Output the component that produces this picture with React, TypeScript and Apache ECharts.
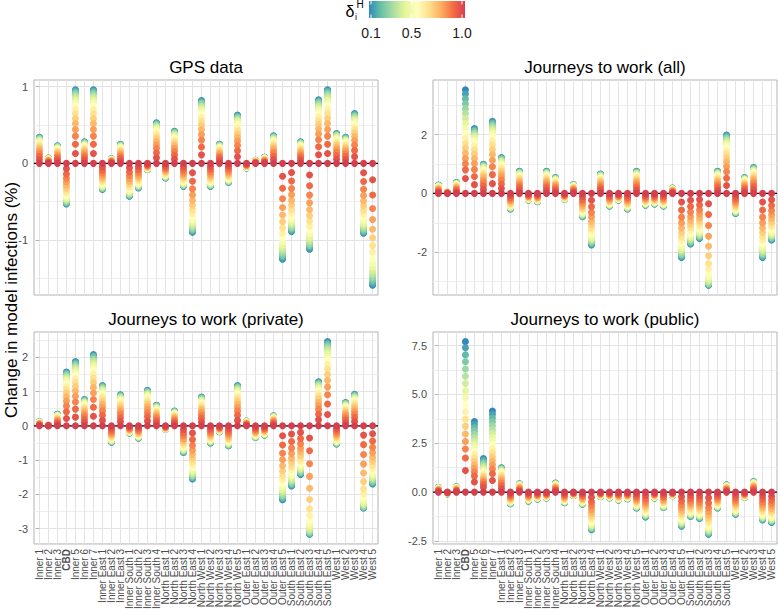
import React, { useEffect, useRef } from "react";
import * as echarts from "echarts";

const categories = [
  "Inner 1", "Inner 2", "Inner 3", "CBD", "Inner 5", "Inner 6", "Inner 7",
  "Inner East 1", "Inner East 2", "Inner East 3",
  "Inner South 1", "Inner South 2", "Inner South 3", "Inner South 4",
  "North East 1", "North East 2", "North East 3", "North East 4",
  "North West 1", "North West 2", "North West 3", "North West 4", "North West 5",
  "Outer East 1", "Outer East 2", "Outer East 3", "Outer East 4", "Outer East 5",
  "South East 1", "South East 2", "South East 3", "South East 4", "South East 5",
  "West 1", "West 2", "West 3", "West 4", "West 5",
];

// delta_i^H values, from 1.0 (no change) down to 0.1
const deltaValues = [1.0, 0.95, 0.9, 0.85, 0.8, 0.75, 0.7, 0.65, 0.6, 0.55, 0.5, 0.45, 0.4, 0.35, 0.3, 0.25, 0.2, 0.15, 0.1];

// change (%) at delta = 0.1 for each area
const gpsExtreme = [0.34, 0.07, 0.23, -0.53, 0.96, 0.28, 0.96, -0.34, 0.06, 0.25, -0.43, -0.32, -0.08, 0.53, -0.19, 0.42, -0.30, -0.90, 0.82, -0.30, 0.25, -0.25, 0.63, -0.06, 0.04, 0.08, 0.36, -1.25, -0.89, 0.28, -1.12, 0.83, 0.96, 0.39, 0.34, 0.65, -0.91, -1.59];
const allExtreme = [0.28, 0.05, 0.37, 3.52, 2.20, 0.99, 2.45, 1.22, -0.53, 0.75, -0.23, -0.28, 0.75, 0.54, -0.20, 0.30, -0.79, -1.75, 0.66, -0.43, -0.23, -0.53, 0.75, -0.40, -0.36, -0.43, 0.18, -2.18, -1.72, -1.53, -3.12, 0.75, 1.98, -0.68, 0.54, 0.88, -2.18, -1.58];
const privateExtreme = [0.12, 0.02, 0.34, 1.57, 1.88, 0.77, 2.08, 1.18, -0.48, 0.91, -0.21, -0.36, 1.04, 0.60, -0.10, 0.43, -0.78, -1.55, 0.84, -0.50, -0.17, -0.58, 1.18, 0.14, -0.34, -0.27, 0.29, -2.16, -1.76, -1.42, -3.17, 1.29, 2.46, -0.53, 0.68, 0.92, -2.40, -1.70];
const publicExtreme = [0.24, -0.08, 0.27, 7.70, 3.61, 1.72, 4.15, 1.25, -0.59, 0.42, -0.46, -0.35, -0.30, 0.46, -0.54, -0.17, -0.62, -1.93, -0.22, -0.29, -0.41, -0.34, -0.81, -1.27, -0.30, -0.79, -0.18, -1.74, -1.25, -1.35, -2.16, -0.81, 0.37, -1.13, -0.27, 0.54, -1.42, -1.55];

// fraction of the delta = 0.1 change reached at each delta
const profileStandard = [0, 0.135, 0.26, 0.37, 0.46, 0.54, 0.61, 0.675, 0.73, 0.78, 0.82, 0.855, 0.885, 0.91, 0.935, 0.955, 0.972, 0.987, 1.0];
const profileCentral = [0, 0.143, 0.227, 0.286, 0.336, 0.386, 0.437, 0.484, 0.532, 0.58, 0.627, 0.674, 0.722, 0.77, 0.818, 0.866, 0.912, 0.959, 1.0];
const profileSpread = [0, 0.113, 0.229, 0.349, 0.466, 0.575, 0.679, 0.765, 0.826, 0.872, 0.905, 0.93, 0.95, 0.965, 0.977, 0.986, 0.993, 0.998, 1.0];

const gpsShapes: Record<number, number[]> = {};
const allShapes: Record<number, number[]> = { 3: profileCentral, 30: profileSpread };
const privateShapes: Record<number, number[]> = { 30: profileSpread, 36: profileSpread };
const publicShapes: Record<number, number[]> = { 3: profileCentral, 4: profileCentral, 5: profileCentral, 6: profileCentral };

const titles = ["GPS data", "Journeys to work (all)", "Journeys to work (private)", "Journeys to work (public)"];
const majorTicks = [[-1, 0, 1], [-2, 0, 2], [-3, -2, -1, 0, 1, 2], [-2.5, 0, 2.5, 5, 7.5]];
const minorTicks = [[-1.5, -0.5, 0.5], [-3, -1, 1, 3], [-2.5, -1.5, -0.5, 0.5, 1.5, 2.5], [-1.25, 1.25, 3.75, 6.25]];
const tickDecimals = [0, 0, 0, 1];

const spectral = ["#3288BD", "#66C2A5", "#ABDDA4", "#E6F598", "#FFFFBF", "#FEE08B", "#FDAE61", "#F46D43", "#D53E4F"];
const legendTicks = [0.1, 0.5, 1.0];

const FONT = "Liberation Sans, Arial, Helvetica, sans-serif";

export default function App() {
  const ref = useRef<HTMLDivElement>(null);

  useEffect(() => {
    if (!ref.current) return;
    const chart = echarts.init(ref.current, null, { renderer: "svg" });

    const extremes = [gpsExtreme, allExtreme, privateExtreme, publicExtreme];
    const shapes = [gpsShapes, allShapes, privateShapes, publicShapes];
    const layout = [
      { left: 34, top: 80, height: 215, showX: false },
      { left: 433, top: 80, height: 215, showX: false },
      { left: 34, top: 332, height: 214, showX: true },
      { left: 433, top: 332, height: 214, showX: true },
    ];
    const W = 344;
    const catIdx = categories.map((_, i) => i);
    const xMin = -0.6;
    const xMax = categories.length - 1 + 0.6;
    // empty placeholder labels at both ends keep every real label from being dropped
    const labelValues = [xMin + 0.05, ...catIdx, xMax - 0.05];

    const grid: any[] = [];
    const xAxis: any[] = [];
    const yAxis: any[] = [];
    const series: any[] = [];
    const graphic: any[] = [];
    const scatterIdx: number[] = [];

    extremes.forEach((ext, k) => {
      const L = layout[k];
      const dMin = Math.min(0, ...ext);
      const dMax = Math.max(0, ...ext);
      const span = dMax - dMin;
      const yMin = dMin - 0.05 * span;
      const yMax = dMax + 0.05 * span;

      grid.push({ left: L.left, top: L.top, width: W, height: L.height, show: true, borderColor: "#B3B3B3", borderWidth: 1, backgroundColor: "transparent", containLabel: false });

      xAxis.push({
        type: "value", gridIndex: k, min: xMin, max: xMax,
        axisLine: { show: false },
        axisTick: { show: L.showX, customValues: catIdx, length: 3.5, lineStyle: { color: "#B3B3B3" } },
        axisLabel: {
          show: L.showX, customValues: labelValues, rotate: 90, margin: 5,
          hideOverlap: false,
          fontSize: 10, color: "#4D4D4D", fontFamily: FONT,
          formatter: (v: number) => {
            if (Math.abs(v - Math.round(v)) > 0.01) return "";
            const name = categories[Math.round(v)] ?? "";
            return name === "CBD" ? "{b|CBD}" : name;
          },
          rich: { b: { fontWeight: "bold", fontSize: 10, color: "#4D4D4D", fontFamily: FONT } },
        },
        splitLine: { show: true, lineStyle: { color: "#E3E3E3", width: 1 } },
      });

      yAxis.push({
        type: "value", gridIndex: k, min: yMin, max: yMax, position: "left",
        axisLine: { show: false },
        axisTick: { show: true, customValues: majorTicks[k], length: 3.5, lineStyle: { color: "#B3B3B3" } },
        axisLabel: {
          customValues: majorTicks[k], margin: 6, fontSize: 11, color: "#4D4D4D", fontFamily: FONT,
          showMinLabel: true, showMaxLabel: true,
          formatter: (v: number) => v.toFixed(tickDecimals[k]),
        },
        splitLine: { show: true, lineStyle: { color: "#E3E3E3", width: 1 } },
      });
      yAxis.push({
        type: "value", gridIndex: k, min: yMin, max: yMax, position: "left",
        axisLine: { show: false },
        axisTick: { show: false, customValues: minorTicks[k] },
        axisLabel: { show: false, customValues: minorTicks[k] },
        splitLine: { show: true, lineStyle: { color: "#EEEEEE", width: 1 } },
      });

      series.push({
        type: "line", xAxisIndex: k, yAxisIndex: 2 * k, silent: true, symbol: "none", z: 3,
        data: [[xMin, 0], [xMax, 0]],
        itemStyle: { color: "#000000" },
        lineStyle: { color: "#000000", width: 1.4 },
      });

      // drawn from delta = 0.1 up to delta = 1.0, so the red (1.0) dots lie on top
      const pts: number[][] = [];
      ext.forEach((v, i) => {
        const prof = shapes[k][i] || profileStandard;
        for (let j = deltaValues.length - 1; j >= 0; j--) {
          pts.push([i, v * prof[j], deltaValues[j]]);
        }
      });
      scatterIdx.push(series.length);
      series.push({
        type: "scatter", xAxisIndex: k, yAxisIndex: 2 * k, silent: true, z: 4,
        symbol: "circle", symbolSize: 7, data: pts,
        itemStyle: { opacity: 1 },
      });

      graphic.push({
        type: "text", x: L.left + W / 2, y: L.top - 13, silent: true,
        style: { text: titles[k], fontSize: 17, fontFamily: FONT, fill: "#000", align: "center", verticalAlign: "middle" },
      });
    });

    // y axis title
    graphic.push({
      type: "text", x: 11, y: 300, rotation: Math.PI / 2, silent: true,
      style: { text: "Change in model infections (%)", fontSize: 17, fontFamily: FONT, fill: "#000", align: "center", verticalAlign: "middle" },
    });

    // colour legend
    const barX0 = 369, barX1 = 465, barY = 1, barH = 17;
    const tickX = (d: number) => 371 + ((d - 0.1) / 0.9) * 91;
    graphic.push({
      type: "rect", silent: true,
      shape: { x: barX0, y: barY, width: barX1 - barX0, height: barH },
      style: {
        fill: new echarts.graphic.LinearGradient(0, 0, 1, 0, spectral.map((c, i) => ({ offset: i / (spectral.length - 1), color: c }))),
      },
    });
    legendTicks.forEach((d) => {
      const x = tickX(d);
      graphic.push({ type: "line", silent: true, shape: { x1: x, y1: barY, x2: x, y2: barY + 3.5 }, style: { stroke: "#fff", lineWidth: 1 } });
      graphic.push({ type: "line", silent: true, shape: { x1: x, y1: barY + barH - 3.5, x2: x, y2: barY + barH }, style: { stroke: "#fff", lineWidth: 1 } });
      graphic.push({
        type: "text", x, y: 33, silent: true,
        style: { text: d.toFixed(1), fontSize: 14, fontFamily: FONT, fill: "#1A1A1A", align: "center", verticalAlign: "middle" },
      });
    });
    graphic.push({ type: "text", x: 350, y: 11, silent: true, style: { text: "δ", fontSize: 16, fontFamily: FONT, fill: "#000", align: "center", verticalAlign: "middle" } });
    graphic.push({ type: "text", x: 360, y: 4, silent: true, style: { text: "H", fontSize: 10, fontFamily: FONT, fill: "#000", align: "center", verticalAlign: "middle" } });
    graphic.push({ type: "text", x: 356, y: 17, silent: true, style: { text: "i", fontSize: 9, fontFamily: FONT, fill: "#000", align: "center", verticalAlign: "middle" } });

    chart.setOption({
      animation: false,
      backgroundColor: "#ffffff",
      textStyle: { fontFamily: FONT },
      grid, xAxis, yAxis, series, graphic,
      visualMap: {
        type: "continuous", show: false, min: 0.1, max: 1.0, dimension: 2,
        seriesIndex: scatterIdx, inRange: { color: spectral },
      },
    });

    return () => chart.dispose();
  }, []);

  return (
    <div
      ref={ref}
      style={{ position: "fixed", left: 0, top: 0, width: 778, height: 612, background: "#fff" }}
    />
  );
}
